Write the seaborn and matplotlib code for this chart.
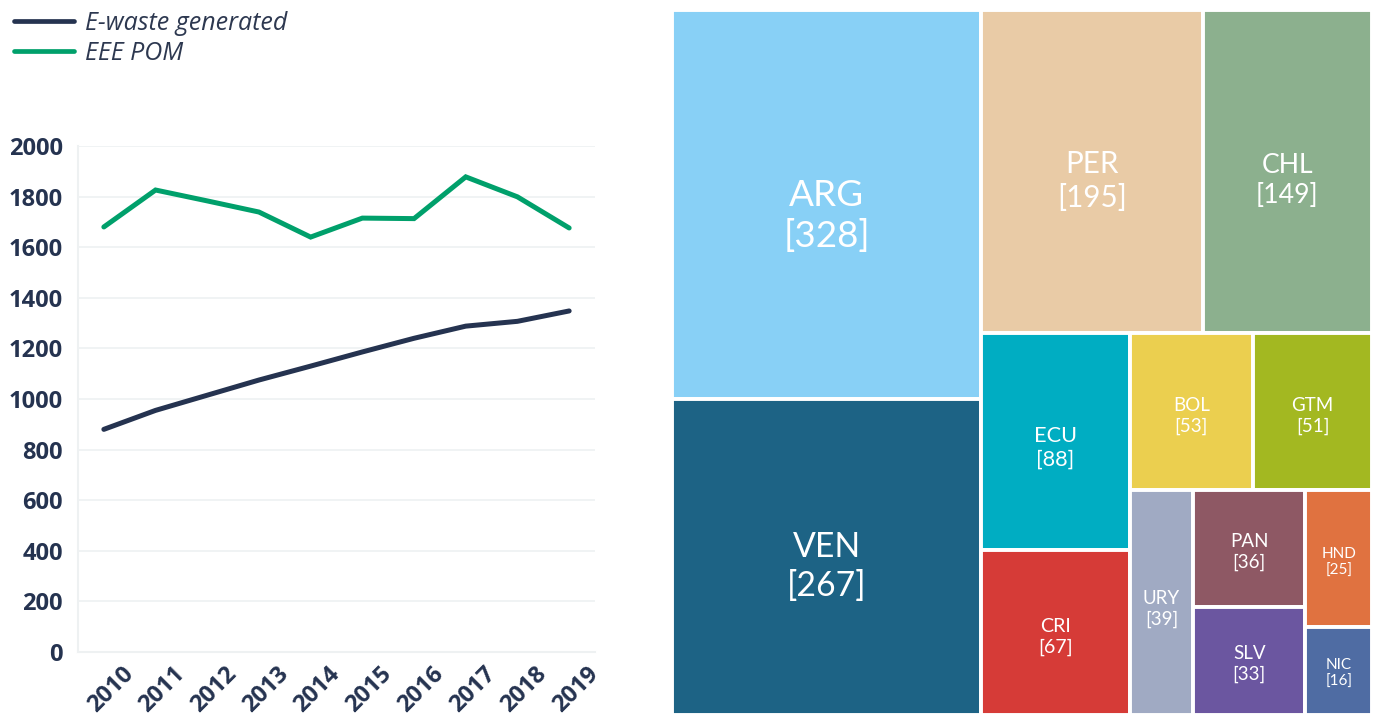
import numpy as np
import pandas as pd
import matplotlib
matplotlib.use("Agg")
import matplotlib.pyplot as plt
import seaborn as sns

# line chart data (kt)
years = [2010, 2011, 2012, 2013, 2014, 2015, 2016, 2017, 2018, 2019]
ewaste_generated = [880, 955, 1015, 1075, 1130, 1186, 1240, 1288, 1307, 1348]
eee_pom = [1680, 1826, 1783, 1739, 1640, 1715, 1713, 1878, 1799, 1676]
series_names = ["E-waste generated", "EEE POM"]

# treemap data
countries = ["ARG", "VEN", "PER", "CHL", "ECU", "CRI", "BOL", "GTM",
             "URY", "PAN", "SLV", "HND", "NIC"]
country_values = [328, 267, 195, 149, 88, 67, 53, 51, 39, 36, 33, 25, 16]
country_colors = ["#88d0f6", "#1d6385", "#e9cba6", "#8cb08e", "#00adc2",
                  "#d63b37", "#ebcf4f", "#a3b821", "#a0aac3", "#8e5864",
                  "#6b56a0", "#e07240", "#4f6ca3"]

# how the treemap strips are cut (number of tiles per strip, direction)
STRIP_SIZES = [2, 2, 2, 2, 1, 2, 2]
STRIP_DIRS = ["col", "row", "col", "row", "col", "col", "col"]

NAVY = "#253350"
GREEN = "#00a06b"
GRID = "#eef1f2"


def strip_layout(values, sizes, dirs, W, H):
    """Cut the W x H box into strips, each strip split by value."""
    rects = []
    x0, y0, w, h = 0.0, 0.0, float(W), float(H)
    remaining = float(sum(values))
    i = 0
    for n, d in zip(sizes, dirs):
        grp = values[i:i + n]
        s = float(sum(grp))
        frac = s / remaining
        if d == "col":
            cw = w * frac
            yy = y0
            for v in grp:
                hh = h * v / s
                rects.append((x0, yy, cw, hh))
                yy += hh
            x0 += cw
            w -= cw
        else:
            rh = h * frac
            xx = x0
            for v in grp:
                ww = w * v / s
                rects.append((xx, y0, ww, rh))
                xx += ww
            y0 += rh
            h -= rh
        remaining -= s
        i += n
    return rects


sns.set_theme(style="white")
plt.rcParams["font.family"] = ["Open Sans", "DejaVu Sans"]

fig = plt.figure(figsize=(13.76, 7.15), dpi=100)

# ---- left: line chart ----
ax = fig.add_axes([78 / 1376, 63 / 715, 517 / 1376, 506 / 715])
df = pd.DataFrame({
    "pos": list(range(len(years))) * 2,
    "value": ewaste_generated + eee_pom,
    "series": [series_names[0]] * len(years) + [series_names[1]] * len(years),
})
sns.lineplot(data=df, x="pos", y="value", hue="series", hue_order=series_names,
             palette=[NAVY, GREEN], linewidth=3.6, ax=ax, legend=False,
             solid_capstyle="round", solid_joinstyle="miter")

ax.set_xlim(-0.5, len(years) - 0.5)
ax.set_ylim(0, 2000)
ax.set_yticks(np.arange(0, 2001, 200))
ax.set_xticks(np.arange(len(years)) + 0.5)
ax.set_xticklabels([str(y) for y in years], rotation=45, ha="right",
                   va="center", rotation_mode="anchor")
ax.set_xlabel("")
ax.set_ylabel("")
ax.grid(axis="y", color=GRID, linewidth=1.2)
ax.set_axisbelow(True)
for side in ["top", "right"]:
    ax.spines[side].set_visible(False)
for side in ["left", "bottom"]:
    ax.spines[side].set_color(GRID)
    ax.spines[side].set_linewidth(1.5)
ax.tick_params(axis="x", direction="in", length=9, width=1.2, color=GRID,
               pad=13, labelsize=17, labelcolor=NAVY)
ax.tick_params(axis="y", length=0, pad=11, labelsize=17, labelcolor=NAVY)
for lab in ax.get_xticklabels() + ax.get_yticklabels():
    lab.set_fontweight("bold")

handles = [plt.Line2D([], [], color=c, linewidth=3.4, solid_capstyle="round")
           for c in [NAVY, GREEN]]
leg = fig.legend(handles, series_names, loc="upper left",
                 bbox_to_anchor=(14 / 1376, 1 - 11 / 715),
                 bbox_transform=fig.transFigure, frameon=False,
                 borderpad=0, borderaxespad=0, handlelength=2.4,
                 handletextpad=0.45, labelspacing=0.2,
                 prop={"family": ["Open Sans", "DejaVu Sans"], "style": "italic",
                       "size": 18})
for t in leg.get_texts():
    t.set_color("#2d3850")

# ---- right: treemap ----
tx = fig.add_axes([672 / 1376, 0, 700 / 1376, 705 / 715])
W, H = 700, 705
rects = strip_layout(country_values, STRIP_SIZES, STRIP_DIRS, W, H)
xs = [r[0] for r in rects]
ys = [r[1] for r in rects]
ws = [r[2] for r in rects]
hs = [r[3] for r in rects]
tx.bar(xs, hs, width=ws, bottom=ys, align="edge", color=country_colors,
       edgecolor="white", linewidth=2.8)
tx.set_xlim(0, W)
tx.set_ylim(H, 0)
tx.axis("off")

for code, val, x0, y0, w, h in zip(countries, country_values, xs, ys, ws, hs):
    s = np.sqrt(w * h)
    fs = max(4 + 0.065 * s, 13.5 if val >= 30 else 11)
    tx.text(x0 + w / 2, y0 + h / 2 + 0.03 * h, f"{code}\n[{val}]",
            ha="center", va="center", color="white", fontsize=fs,
            family=["Lato", "DejaVu Sans"], fontweight="normal",
            linespacing=1.25)

fig.savefig("out.png", dpi=100)
